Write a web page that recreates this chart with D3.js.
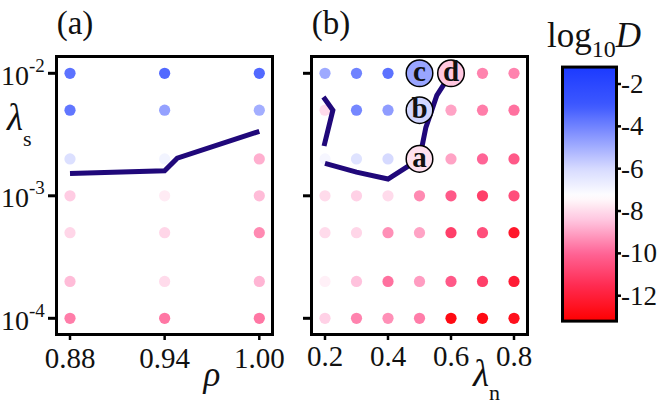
<!DOCTYPE html>
<html>
<head>
<meta charset="utf-8">
<script src="https://cdn.jsdelivr.net/npm/d3@7"></script>
<style>
  body { margin: 0; background: #fff; }
  svg { display: block; }
</style>
</head>
<body>
<div id="chart"></div>
<script>
// ---- data ----
var lambdaS = [1e-2, 5e-3, 2e-3, 1e-3, 5e-4, 2e-4, 1e-4];
var rhoVals = [0.88, 0.94, 1.00];
var lambdaN = [0.2, 0.3, 0.4, 0.5, 0.6, 0.7, 0.8];

// log10 D, rows follow lambdaS, columns follow rhoVals
var logDA = [
  [-3.6, -3.4, -3.4],
  [-3.7, -4.7, -5.0],
  [-6.2, -6.9, -8.8],
  [-8.3, -7.7, -8.6],
  [-8.1, -8.1, -9.4],
  [-8.6, -8.0, -8.7],
  [-9.6, -9.7, -9.7]
];
// rows follow lambdaS, columns follow lambdaN
var logDB = [
  [-4.9, -4.0, -3.6, -4.8, -8.4, -9.5, -9.5],
  [-8.0, -4.1, -4.6, -5.9, -9.0, -9.6, -9.8],
  [-7.0, -6.3, -6.0, -7.9, -9.0, -10.0, -10.3],
  [-8.0, -8.2, -8.0, -9.4, -10.3, -11.0, -10.6],
  [-8.0, -8.1, -9.3, -9.0, -11.0, -10.6, -12.3],
  [-7.6, -8.5, -9.8, -9.1, -10.3, -11.0, -12.1],
  [-8.2, -9.5, -9.3, -9.6, -12.8, -12.8, -12.6]
];

// boundary lines [x, lambda_s]
var lineA  = [[0.88, 1.52e-3], [0.94, 1.6e-3], [0.948, 2.03e-3], [1.00, 3.36e-3]];
var lineB1 = [[0.195, 6.4e-3], [0.225, 5.0e-3], [0.197, 2.55e-3]];
var lineB2 = [[0.2, 1.84e-3], [0.3, 1.56e-3], [0.4, 1.37e-3], [0.5, 2.0e-3],
              [0.52, 3.6e-3], [0.555, 6.6e-3], [0.6, 1.0e-2]];

// labelled points in (b)
var marks = [
  {name: "a", n: 0.5, s: 2e-3, v: -7.9},
  {name: "b", n: 0.5, s: 5e-3, v: -5.9},
  {name: "c", n: 0.5, s: 1e-2, v: -4.8},
  {name: "d", n: 0.6, s: 1e-2, v: -8.4}
];

var yTicks = [1e-2, 1e-3, 1e-4];
var yTickLabels = ["-2", "-3", "-4"];
var rhoTicks = [0.88, 0.94, 1.00];
var nTicks = [0.2, 0.4, 0.6, 0.8];
var cbTicks = [-2, -4, -6, -8, -10, -12];

// colour map (blue - white - pink - red)
var cStops = [-1.2, -3, -4.5, -6, -7.3, -8.5, -10, -11.5, -13.2];
var cCols  = ["#1c3aff", "#3d58ff", "#8a98ff", "#d6daff", "#ffffff", "#ffc2dd", "#ff6496", "#ff2c52", "#ff0000"];
var color = d3.scaleLinear().domain(cStops).range(cCols).interpolate(d3.interpolateRgb);

var serif = "'Liberation Serif', 'Times New Roman', Times, 'DejaVu Serif', serif";
var width = 664, height = 410;
var svg = d3.select("#chart").append("svg")
  .attr("width", width).attr("height", height)
  .attr("font-family", serif);

var y = d3.scaleLog().domain([1e-4, 1e-2]).range([318.3, 73.3]);
var xA = d3.scaleLinear().domain([0.88, 1.00]).range([70, 259.3]);
var xB = d3.scaleLinear().domain([0.2, 0.8]).range([325, 514]);
var r = 5.6;

var line = function(xs) {
  return d3.line().x(d => xs(d[0])).y(d => y(d[1]));
};

function txt(sel) {
  return sel.append("text").attr("font-family", serif).attr("fill", "#111");
}

function frame(x0, x1) {
  svg.append("rect")
    .attr("x", x0).attr("y", 56.5)
    .attr("width", x1 - x0).attr("height", 278)
    .attr("fill", "none").attr("stroke", "#000").attr("stroke-width", 3);
}

function yAxisTicks(xEdge) {
  svg.append("g").selectAll("line").data(yTicks).enter().append("line")
    .attr("x1", xEdge - 7).attr("x2", xEdge)
    .attr("y1", d => y(d)).attr("y2", d => y(d))
    .attr("stroke", "#000").attr("stroke-width", 3);
}

function xAxisTicks(xs, ticks) {
  svg.append("g").selectAll("line").data(ticks).enter().append("line")
    .attr("x1", d => xs(d)).attr("x2", d => xs(d))
    .attr("y1", 335).attr("y2", 340)
    .attr("stroke", "#000").attr("stroke-width", 2.5);
}

// ****************** panel (a) ******************
frame(56.5, 272.5);
yAxisTicks(55);
xAxisTicks(xA, rhoTicks);

var gA = svg.append("g");
lambdaS.forEach(function(s, i) {
  gA.selectAll(null).data(rhoVals).enter().append("circle")
    .attr("cx", d => xA(d)).attr("cy", y(s)).attr("r", r)
    .attr("fill", (d, j) => color(logDA[i][j]));
});

svg.append("path").datum(lineA)
  .attr("d", line(xA))
  .attr("fill", "none").attr("stroke", "#20087a").attr("stroke-width", 5)
  .attr("stroke-linejoin", "miter");

// y tick labels 10^-n
var yl = svg.append("g").selectAll("text").data(yTicks).enter().append("text")
  .attr("font-family", serif).attr("fill", "#111")
  .attr("x", 1).attr("y", d => y(d) + 11.5)
  .attr("font-size", 28);
yl.append("tspan").text("10");
yl.append("tspan").attr("dy", -13).attr("font-size", 19).text((d, i) => yTickLabels[i]);

svg.append("g").selectAll("text").data(rhoTicks).enter().append("text")
  .attr("font-family", serif).attr("fill", "#111")
  .attr("x", d => xA(d)).attr("y", 368)
  .attr("text-anchor", "middle").attr("font-size", 29)
  .text(d => d.toFixed(2));

// axis titles
var ls = txt(svg).attr("x", 7).attr("y", 130).attr("font-size", 37);
ls.append("tspan").attr("font-style", "italic").text("λ");
ls.append("tspan").attr("dy", 16).attr("font-size", 22).text("s");

txt(svg).attr("x", 212).attr("y", 386).attr("text-anchor", "middle")
  .attr("font-size", 35).attr("font-style", "italic").text("ρ");

txt(svg).attr("x", 75).attr("y", 34).attr("text-anchor", "middle")
  .attr("font-size", 33).text("(a)");

// ****************** panel (b) ******************
frame(311.5, 527.5);
yAxisTicks(310);
xAxisTicks(xB, nTicks);

var gB = svg.append("g");
lambdaS.forEach(function(s, i) {
  gB.selectAll(null).data(lambdaN).enter().append("circle")
    .attr("cx", d => xB(d)).attr("cy", y(s)).attr("r", r)
    .attr("fill", (d, j) => color(logDB[i][j]));
});

[lineB1, lineB2].forEach(function(seg) {
  svg.append("path").datum(seg)
    .attr("d", line(xB))
    .attr("fill", "none").attr("stroke", "#20087a").attr("stroke-width", 5)
    .attr("stroke-linejoin", "miter");
});

var mk = svg.append("g").selectAll("g").data(marks).enter().append("g")
  .attr("transform", d => "translate(" + xB(d.n) + "," + y(d.s) + ")");
mk.append("circle").attr("r", 13.3)
  .attr("fill", d => color(d.v)).attr("stroke", "#000").attr("stroke-width", 1.5);
mk.append("text").attr("font-family", serif).attr("fill", "#111")
  .attr("y", 8).attr("text-anchor", "middle")
  .attr("font-size", 29).attr("font-weight", "bold").text(d => d.name);

svg.append("g").selectAll("text").data(nTicks).enter().append("text")
  .attr("font-family", serif).attr("fill", "#111")
  .attr("x", d => xB(d)).attr("y", 366)
  .attr("text-anchor", "middle").attr("font-size", 29)
  .text(d => d.toFixed(1));

var ln = txt(svg).attr("x", 473).attr("y", 386).attr("font-size", 37);
ln.append("tspan").attr("font-style", "italic").text("λ");
ln.append("tspan").attr("dy", 14).attr("font-size", 22).text("n");

txt(svg).attr("x", 331).attr("y", 34).attr("text-anchor", "middle")
  .attr("font-size", 33).text("(b)");

// ****************** colour bar ******************
var cb = d3.scaleLinear().domain([-2, -12]).range([84, 295.7]);
var cbTop = -1.2, cbBot = -13.2;

var grad = svg.append("defs").append("linearGradient")
  .attr("id", "cbar").attr("x1", 0).attr("x2", 0).attr("y1", 0).attr("y2", 1);
grad.selectAll("stop").data(d3.range(0, 1.0001, 0.02)).enter().append("stop")
  .attr("offset", d => d)
  .attr("stop-color", d => color(cbTop + (cbBot - cbTop) * d));

svg.append("rect")
  .attr("x", 562.5).attr("y", cb(cbTop))
  .attr("width", 54).attr("height", cb(cbBot) - cb(cbTop))
  .attr("fill", "url(#cbar)").attr("stroke", "#000").attr("stroke-width", 3);

svg.append("g").selectAll("line").data(cbTicks).enter().append("line")
  .attr("x1", 617).attr("x2", 621)
  .attr("y1", d => cb(d)).attr("y2", d => cb(d))
  .attr("stroke", "#000").attr("stroke-width", 2.5);

svg.append("g").selectAll("text").data(cbTicks).enter().append("text")
  .attr("font-family", serif).attr("fill", "#111")
  .attr("x", 621).attr("y", d => cb(d) + 9)
  .attr("font-size", 27)
  .text(d => "-" + Math.abs(d));

var tl = txt(svg).attr("x", 547).attr("y", 47).attr("font-size", 35);
tl.append("tspan").text("log");
tl.append("tspan").attr("dy", 10).attr("font-size", 24).text("10");
tl.append("tspan").attr("dy", -10).attr("font-style", "italic").text("D");
</script>
</body>
</html>
